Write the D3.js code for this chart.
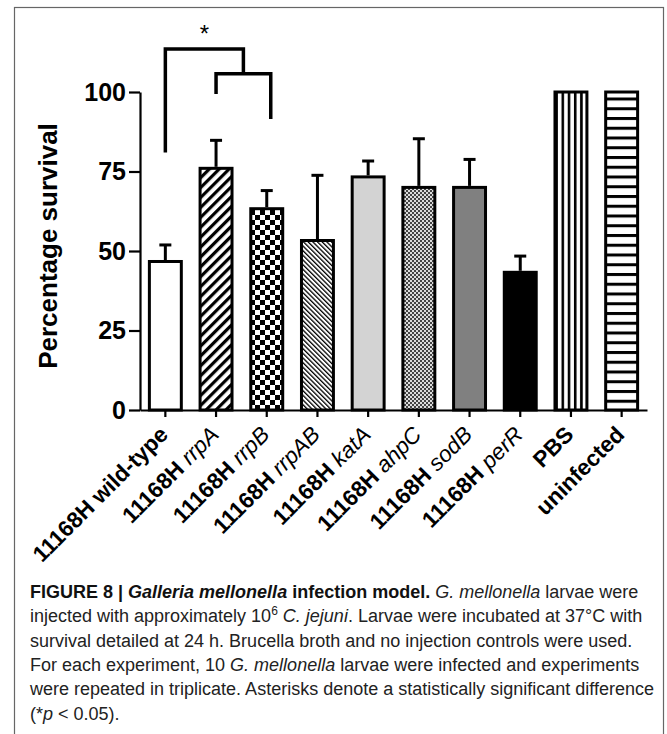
<!DOCTYPE html>
<html>
<head>
<meta charset="utf-8">
<script src="https://cdn.jsdelivr.net/npm/d3@7"></script>
<style>
  body { margin: 0; background: #fff; }
  svg { display: block; }
</style>
</head>
<body>
<div id="chart"></div>
<script>
// Galleria mellonella survival bar chart

// strain names (bold part) and gene names (italic part)
var strains = ["11168H wild-type", "11168H", "11168H", "11168H", "11168H",
  "11168H", "11168H", "11168H", "PBS", "uninfected"];
var genes = ["", "rrpA", "rrpB", "rrpAB", "katA", "ahpC", "sodB", "perR", "", ""];

// percentage survival and upward error
var survival = [46.7, 76, 63.3, 53.3, 73.3, 70, 70, 43.3, 100, 100];
var errors = [5.2, 8.8, 5.7, 20.5, 5.0, 15.3, 8.8, 5.1, 0, 0];

var yTicks = [0, 25, 50, 75, 100];

// significance bracket levels (in % units)
var bracketOuterTop = 113.5;
var bracketInnerTop = 105.7;
var bracketFootWT = 81;
var bracketFootA = 99.4;
var bracketFootB = 91.5;

var width = 667;
var height = 734;

var svg = d3.select("#chart")
  .append("svg")
  .attr("width", width)
  .attr("height", height);

// figure frame
svg.append("rect")
  .attr("x", 14.5)
  .attr("y", 7.5)
  .attr("width", 649)
  .attr("height", 760)
  .attr("fill", "none")
  .attr("stroke", "#666")
  .attr("stroke-width", 1.2);

// fill patterns
var defs = svg.append("defs");

function pattern(id, w, h, transform) {
  var p = defs.append("pattern")
    .attr("id", id)
    .attr("patternUnits", "userSpaceOnUse")
    .attr("width", w)
    .attr("height", h);
  if (transform) p.attr("patternTransform", transform);
  p.append("rect").attr("width", w).attr("height", h).attr("fill", "#fff");
  return p;
}

// thick "/" stripes
pattern("diagThick", 7, 7, "rotate(45)")
  .append("rect").attr("width", 3.2).attr("height", 7).attr("fill", "#000");

// checkerboard
var chk = pattern("checker", 10, 10);
chk.append("rect").attr("width", 5).attr("height", 5).attr("fill", "#000");
chk.append("rect").attr("x", 5).attr("y", 5).attr("width", 5).attr("height", 5).attr("fill", "#000");

// thin "\" stripes
pattern("diagThin", 3.3, 3.3, "rotate(-45)")
  .append("rect").attr("width", 1.3).attr("height", 3.3).attr("fill", "#000");

// fine grey checker
var fine = pattern("fineChecker", 4, 4);
fine.select("rect").attr("fill", "#dcdcdc");
fine.append("rect").attr("width", 2).attr("height", 2).attr("fill", "#444");
fine.append("rect").attr("x", 2).attr("y", 2).attr("width", 2).attr("height", 2).attr("fill", "#444");

// vertical lines
pattern("vLines", 6.2, 10)
  .append("rect").attr("x", 3.5).attr("width", 2.6).attr("height", 10).attr("fill", "#000");

// horizontal lines
pattern("hLines", 10, 9.75)
  .append("rect").attr("y", 0).attr("width", 10).attr("height", 3).attr("fill", "#000");

var fills = ["#fff", "url(#diagThick)", "url(#checker)", "url(#diagThin)", "#d3d3d3",
  "url(#fineChecker)", "#808080", "#000", "url(#vLines)", "url(#hLines)"];

// scales
var xScale = d3.scaleBand()
  .domain(d3.range(strains.length))
  .range([140, 647])
  .paddingInner(0.37)
  .paddingOuter(0.185);

var yScale = d3.scaleLinear()
  .domain([0, 100])
  .range([410, 92]);

var font = "'Liberation Sans', Arial, sans-serif";

// y axis
var yAxis = d3.axisLeft(yScale)
  .tickValues(yTicks)
  .tickSize(11)
  .tickSizeOuter(0)
  .tickPadding(3);

var gy = svg.append("g")
  .attr("transform", "translate(140,0)")
  .call(yAxis);
gy.select(".domain").attr("stroke-width", 2.2);
gy.selectAll(".tick line").attr("stroke-width", 2.2);
gy.selectAll(".tick text")
  .attr("font-family", font)
  .attr("font-weight", "bold")
  .attr("font-size", 25)
  .attr("fill", "#000");

// x axis
var xAxis = d3.axisBottom(xScale)
  .tickSize(7)
  .tickSizeOuter(0)
  .tickFormat("");

var gx = svg.append("g")
  .attr("transform", "translate(0,410)")
  .call(xAxis);
gx.select(".domain").attr("stroke-width", 2.2);
gx.selectAll(".tick line").attr("stroke-width", 2.2);

// y axis title
svg.append("text")
  .attr("transform", "translate(57,246) rotate(-90)")
  .attr("text-anchor", "middle")
  .attr("font-family", font)
  .attr("font-weight", "bold")
  .attr("font-size", 26)
  .text("Percentage survival");

// bars
svg.selectAll(".bar")
  .data(survival)
  .enter()
  .append("rect")
  .attr("class", "bar")
  .attr("x", function(d, i) { return xScale(i); })
  .attr("y", function(d) { return yScale(d); })
  .attr("width", xScale.bandwidth())
  .attr("height", function(d) { return yScale(0) - yScale(d); })
  .attr("fill", function(d, i) { return fills[i]; })
  .attr("stroke", "#000")
  .attr("stroke-width", 3);

// error bars (upper only)
var cx = function(i) { return xScale(i) + xScale.bandwidth() / 2; };

survival.forEach(function(v, i) {
  if (!errors[i]) return;
  var top = yScale(v + errors[i]);
  svg.append("line")
    .attr("x1", cx(i)).attr("x2", cx(i))
    .attr("y1", yScale(v) - 1.5).attr("y2", top)
    .attr("stroke", "#000").attr("stroke-width", 3);
  svg.append("line")
    .attr("x1", cx(i) - 6).attr("x2", cx(i) + 6)
    .attr("y1", top).attr("y2", top)
    .attr("stroke", "#000").attr("stroke-width", 3);
});

// x tick labels, rotated
var labels = svg.selectAll(".xlabel")
  .data(strains)
  .enter()
  .append("text")
  .attr("class", "xlabel")
  .attr("transform", function(d, i) {
    return "translate(" + (cx(i) + 4) + ",436) rotate(-45)";
  })
  .attr("text-anchor", "end")
  .attr("font-family", font)
  .attr("font-size", 22.5);

labels.append("tspan")
  .attr("font-weight", "bold")
  .text(function(d) { return d; });
labels.append("tspan")
  .attr("font-style", "italic")
  .text(function(d, i) { return genes[i] ? " " + genes[i] : ""; });

// significance bracket
var xA = cx(1);
var xB = cx(2) + 4;
var xMid = (xA + xB) / 2;

svg.append("path")
  .attr("d",
    "M" + cx(0) + "," + yScale(bracketFootWT) +
    "V" + yScale(bracketOuterTop) +
    "H" + xMid +
    "V" + yScale(bracketInnerTop))
  .attr("fill", "none")
  .attr("stroke", "#000")
  .attr("stroke-width", 3.5);

svg.append("path")
  .attr("d",
    "M" + xA + "," + yScale(bracketFootA) +
    "V" + yScale(bracketInnerTop) +
    "H" + xB +
    "V" + yScale(bracketFootB))
  .attr("fill", "none")
  .attr("stroke", "#000")
  .attr("stroke-width", 3.5);

svg.append("text")
  .attr("x", (cx(0) + xMid) / 2)
  .attr("y", 42)
  .attr("text-anchor", "middle")
  .attr("font-family", font)
  .attr("font-size", 24)
  .text("*");

// caption
var capFont = "'Liberation Sans', Arial, sans-serif";
var capLines = [
  [["FIGURE 8 | ", "b"], ["Galleria mellonella", "bi"], [" infection model.", "b"], [" G. mellonella", "i"], [" larvae were", ""]],
  [["injected with approximately 10", ""], ["6", "sup"], [" ", "down"], ["C. jejuni", "i"], [". Larvae were incubated at 37°C with", ""]],
  [["survival detailed at 24 h. Brucella broth and no injection controls were used.", ""]],
  [["For each experiment, 10 ", ""], ["G. mellonella", "i"], [" larvae were infected and experiments", ""]],
  [["were repeated in triplicate. Asterisks denote a statistically significant difference", ""]],
  [["(*", ""], ["p", "i"], [" < 0.05).", ""]]
];

var cap = svg.append("g")
  .attr("font-family", capFont)
  .attr("font-size", 18)
  .attr("fill", "#222");

capLines.forEach(function(line, li) {
  var t = cap.append("text")
    .attr("x", 30)
    .attr("y", 598 + li * 24.3);
  line.forEach(function(seg) {
    var s = t.append("tspan").text(seg[0]);
    if (seg[1].indexOf("b") >= 0) s.attr("font-weight", "bold").attr("fill", "#111");
    if (seg[1].indexOf("i") >= 0) s.attr("font-style", "italic");
    if (seg[1] === "sup") s.attr("font-size", 12).attr("dy", -7);
    if (seg[1] === "down") s.attr("dy", 7);
  });
});
</script>
</body>
</html>
